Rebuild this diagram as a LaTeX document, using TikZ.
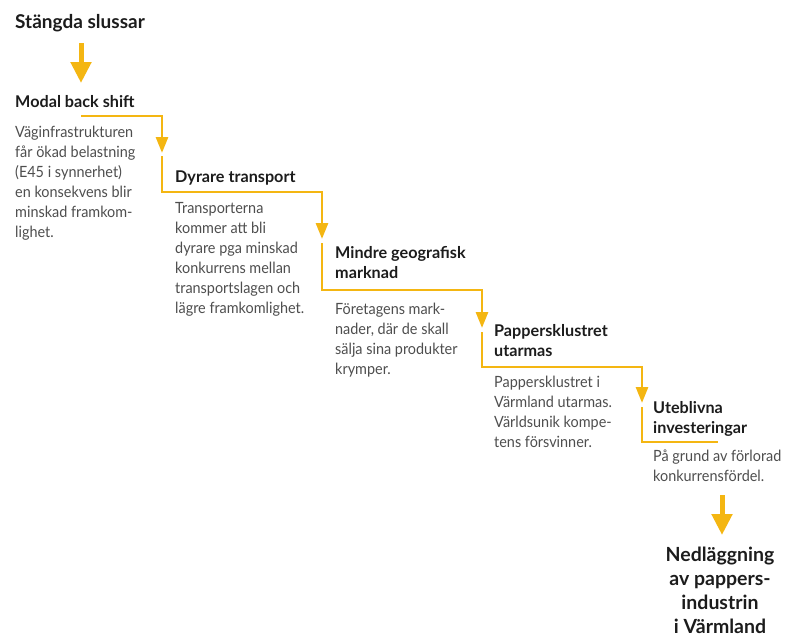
\documentclass[tikz,border=0pt]{standalone}
\usepackage{fontspec}
\setmainfont{Lato}
\newfontfamily\brodfont{Lato}[FakeStretch=0.93]
\usetikzlibrary{arrows.meta}
\definecolor{gul}{RGB}{244,182,18}
\definecolor{rubrik}{RGB}{28,28,28}
\definecolor{brod}{RGB}{78,78,78}
\begin{document}
\begin{tikzpicture}[x=1pt,y=-1pt,
  huvud/.style={anchor=base west,inner sep=0pt,font=\bfseries\fontsize{19}{24}\selectfont,text=rubrik},
  titel/.style={anchor=base west,inner sep=0pt,font=\bfseries\fontsize{16.2}{20}\selectfont,text=rubrik,align=left},
  brodtext/.style={anchor=base west,inner sep=0pt,font=\brodfont\fontsize{15.5}{20}\selectfont,text=brod,align=left},
  slut/.style={anchor=base,inner sep=0pt,font=\bfseries\fontsize{19.5}{23.7}\selectfont,text=rubrik,align=center},
  flode/.style={draw=gul,line width=2.8pt,-{Triangle[width=12pt,length=16pt]}},
  linje/.style={draw=gul,line width=2.8pt},
  tjock/.style={draw=gul,line width=5pt,-{Triangle[width=20pt,length=21pt]}}
]
\useasboundingbox (0,0) rectangle (785,637);

% texts (multi-line nodes are placed by the baseline of their last line)
\node[huvud] (start) at (15,28) {Stängda slussar};
\node[titel] (t1) at (15,107) {Modal back shift};
\node[brodtext] (b1) at (15,237.5) {Väginfrastrukturen\\får ökad belastning\\(E45 i synnerhet)\\en konsekvens blir\\minskad framkom-\\lighet.};
\node[titel] (t2) at (175,182) {Dyrare transport};
\node[brodtext] (b2) at (175,313.5) {Transporterna\\kommer att bli\\dyrare pga minskad\\konkurrens mellan\\transportslagen och\\lägre framkomlighet.};
\node[titel] (t3) at (335,278.5) {Mindre geografisk\\marknad};
\node[brodtext] (b3) at (335,374) {Företagens mark-\\nader, där de skall\\sälja sina produkter\\krymper.};
\node[titel] (t4) at (494,356) {Pappersklustret\\utarmas};
\node[brodtext] (b4) at (494,447.5) {Pappersklustret i\\Värmland utarmas.\\Världsunik kompe-\\tens försvinner.};
\node[titel] (t5) at (653,433) {Uteblivna\\investeringar};
\node[brodtext] (b5) at (653,481.5) {På grund av förlorad\\konkurrensfördel.};
\node[slut] (slut) at (720,633) {Nedläggning\\av pappers-\\industrin\\i Värmland};

% path coordinates
\coordinate (a0s) at (81,43);
\coordinate (a0e) at (81,83);
\coordinate (p1a) at (81,116);
\coordinate (p1b) at (162,116);
\coordinate (p1c) at (162,153);
\coordinate (p2a) at (162,156);
\coordinate (p2b) at (162,192);
\coordinate (p2c) at (322,192);
\coordinate (p2d) at (322,239);
\coordinate (p3a) at (322,243);
\coordinate (p3b) at (322,290);
\coordinate (p3c) at (482,290);
\coordinate (p3d) at (482,328);
\coordinate (p4a) at (482,332);
\coordinate (p4b) at (482,367);
\coordinate (p4c) at (642,367);
\coordinate (p4d) at (642,403);
\coordinate (p5a) at (642,407);
\coordinate (p5b) at (642,442);
\coordinate (p5c) at (718,442);
\coordinate (a6s) at (722,495);
\coordinate (a6e) at (722,535);

% connectors
\draw[tjock] (a0s) -- (a0e);
\draw[flode] (p1a) -- (p1b) -- (p1c);
\draw[flode] (p2a) -- (p2b) -- (p2c) -- (p2d);
\draw[flode] (p3a) -- (p3b) -- (p3c) -- (p3d);
\draw[flode] (p4a) -- (p4b) -- (p4c) -- (p4d);
\draw[linje] (p5a) -- (p5b) -- (p5c);
\draw[tjock] (a6s) -- (a6e);
\end{tikzpicture}
\end{document}
